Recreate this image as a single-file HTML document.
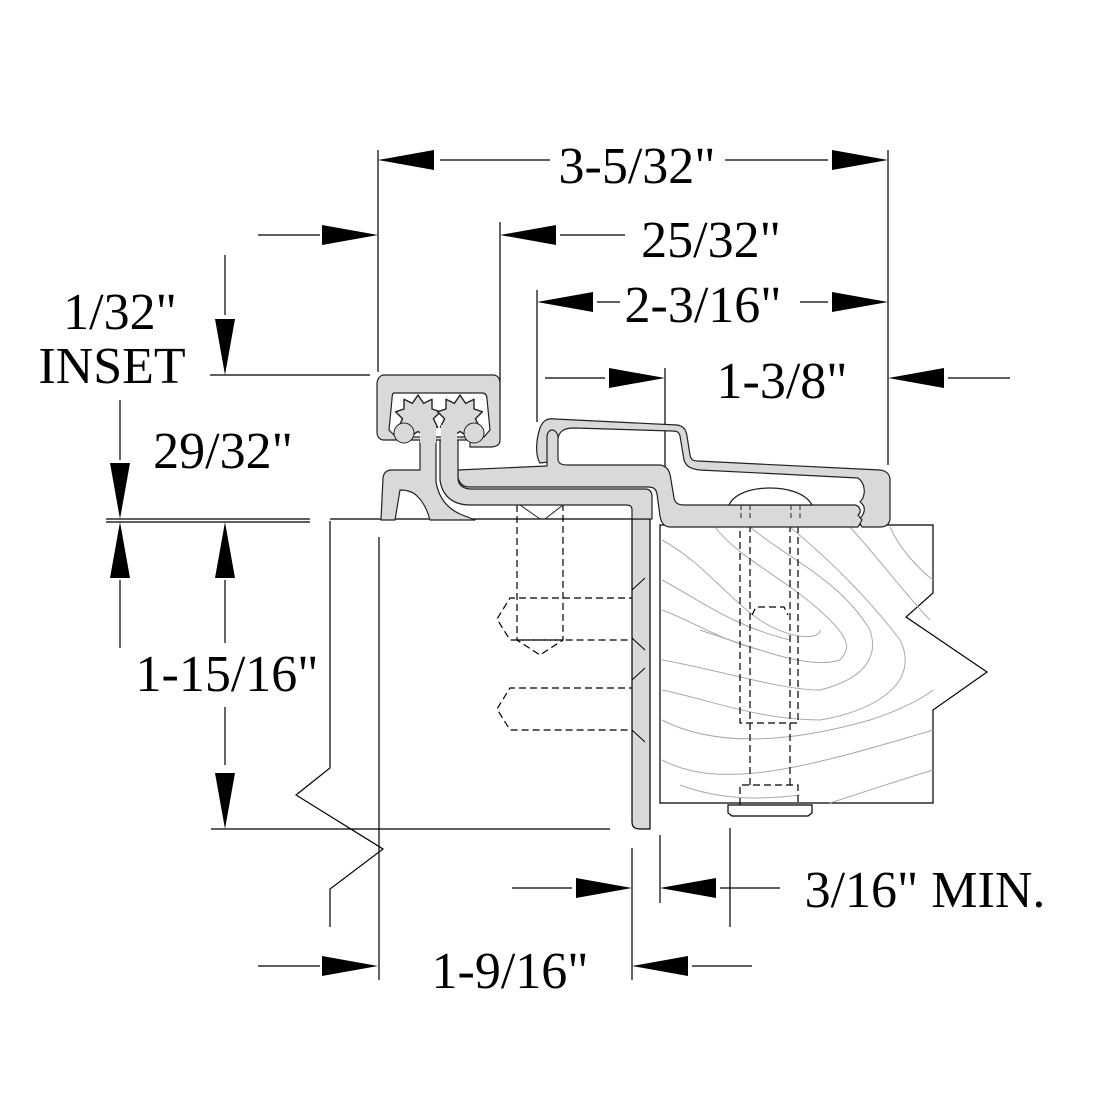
<!DOCTYPE html>
<html><head><meta charset="utf-8"><style>
html,body{margin:0;padding:0;background:#fff;}
svg{display:block}
text{font-family:"Liberation Serif",serif;fill:#000;}
</style></head><body>
<svg width="1094" height="1118" viewBox="0 0 1094 1118" xmlns="http://www.w3.org/2000/svg">
<defs>
<path id="ar" d="M0,0 L56,-10 L56,10 Z" fill="#000"/>
<path id="gear" d="M0,-15 L4,-9 L10,-12 L10,-5 L16,-3 L11,2 L14,8 L7,9 L6,15 L0,11 L-6,15 L-7,9 L-14,8 L-11,2 L-16,-3 L-10,-5 L-10,-12 L-4,-9 Z"/>
</defs>
<g stroke="#000" stroke-width="1.2" fill="none">
<line x1="378" y1="150" x2="378" y2="372"/>
<line x1="888" y1="150" x2="888" y2="465"/>
<line x1="500" y1="222" x2="500" y2="400"/>
<line x1="537" y1="290" x2="537" y2="422"/>
<line x1="665" y1="368" x2="665" y2="515"/>
<line x1="210" y1="375" x2="370" y2="375"/>
<line x1="106" y1="519" x2="310" y2="519"/>
<line x1="106" y1="522" x2="310" y2="522"/>
<line x1="211" y1="829" x2="610" y2="829"/>
<line x1="379" y1="537" x2="379" y2="980"/>
<line x1="632" y1="848" x2="632" y2="980"/>
<line x1="660" y1="835" x2="660" y2="903"/>
<line x1="730" y1="828" x2="730" y2="927"/>
<line x1="440" y1="160" x2="550" y2="160"/>
<line x1="725" y1="160" x2="828" y2="160"/>
<line x1="258" y1="235" x2="320" y2="235"/>
<line x1="560" y1="235" x2="625" y2="235"/>
<line x1="597" y1="302" x2="620" y2="302"/>
<line x1="800" y1="302" x2="828" y2="302"/>
<line x1="545" y1="378" x2="605" y2="378"/>
<line x1="948" y1="378" x2="1010" y2="378"/>
<line x1="225" y1="255" x2="225" y2="315"/>
<line x1="120" y1="400" x2="120" y2="460"/>
<line x1="120" y1="580" x2="120" y2="648"/>
<line x1="225" y1="580" x2="225" y2="643"/>
<line x1="225" y1="707" x2="225" y2="765"/>
<line x1="512" y1="888" x2="572" y2="888"/>
<line x1="720" y1="888" x2="780" y2="888"/>
<line x1="258" y1="966" x2="320" y2="966"/>
<line x1="692" y1="966" x2="752" y2="966"/>
<line x1="330" y1="519" x2="640" y2="519"/>
<polyline points="330,521 330,768 296,795 383,849 330,889 330,927"/>
</g>
<use href="#ar" transform="translate(378,160)"/>
<use href="#ar" transform="translate(888,160) rotate(180)"/>
<use href="#ar" transform="translate(378,235) rotate(180)"/>
<use href="#ar" transform="translate(500,235)"/>
<use href="#ar" transform="translate(537,302)"/>
<use href="#ar" transform="translate(888,302) rotate(180)"/>
<use href="#ar" transform="translate(665,378) rotate(180)"/>
<use href="#ar" transform="translate(888,378)"/>
<use href="#ar" transform="translate(225,375) rotate(-90)"/>
<use href="#ar" transform="translate(120,519) rotate(-90)"/>
<use href="#ar" transform="translate(120,522) rotate(90)"/>
<use href="#ar" transform="translate(225,522) rotate(90)"/>
<use href="#ar" transform="translate(225,829) rotate(-90)"/>
<use href="#ar" transform="translate(632,888) rotate(180)"/>
<use href="#ar" transform="translate(660,888)"/>
<use href="#ar" transform="translate(378,966) rotate(180)"/>
<use href="#ar" transform="translate(632,966)"/>

<path d="M660,525 H933 V593 L906,617 L987,672 L933,710 V803 H660 Z" fill="#fff" stroke="#000" stroke-width="1.2"/>
<g stroke="#aaa" stroke-width="1" fill="none">
<path d="M715,527 C740,560 790,580 830,620 C850,640 850,650 840,660 C810,670 760,650 700,630 660,610"/>
<path d="M750,527 C790,560 840,580 870,630 C880,660 860,680 820,690 C780,690 720,670 662,660"/>
<path d="M790,527 C830,560 870,600 900,640 C920,680 880,710 820,720 C760,720 710,700 662,690"/>
<path d="M850,527 C880,560 910,600 930,620"/>
<path d="M662,540 C700,560 730,600 760,620 C790,640 820,640 820,630"/>
<path d="M662,580 C700,600 730,625 790,640"/>
<path d="M662,610 C690,620 720,640 760,650"/>
<path d="M662,720 C720,750 800,740 870,720 C900,710 920,700 933,690"/>
<path d="M662,760 C720,790 800,770 933,730"/>
<path d="M680,785 C720,800 760,800 800,795"/>
<path d="M830,803 C870,790 900,780 933,770"/>
<path d="M890,527 C900,550 920,570 933,580"/>
</g>
<g stroke="#000" stroke-width="1.2" fill="none" stroke-dasharray="7,4">
<path d="M740,520 V723 H798 V520"/>
<path d="M750,525 V785 M790,525 V785"/>
<path d="M752,615 L756,607 H784 L788,615"/>
<path d="M740,805 V785 H798 V805"/>
</g>
<path d="M728,805 H812 V813 L808,816 H732 L728,813 Z" fill="#fff" stroke="#000" stroke-width="1.2"/>
<g stroke="#000" stroke-width="1.2" fill="none" stroke-dasharray="7,4">
<path d="M517,505 V640 L540,655 L563,640 V505"/>
<path d="M517,640 H563"/>
<path d="M636,598 H510 L497,619 L510,640 H636 Z"/>
<path d="M636,688 H510 L497,709 L510,730 H636 Z"/>
</g>
<path d="M632,519 V822 Q632,829 640,829 H650 V519 Z" fill="#d9d9d9" stroke="#000" stroke-width="1.2"/>
<g stroke="#000" stroke-width="1" fill="none">
<path d="M632,590 L645,578 M632,638 L645,650 M632,680 L645,668 M632,730 L645,742"/>
</g>

<g fill="#d9d9d9" stroke="#222" stroke-width="1.2" stroke-linejoin="round">
<path d="M540,463 C535,455 536,440 540,428 C543,420 548,418 555,419 L677,425 C684,426 686,430 687,436 L690,455 C691,460 693,461 698,461 L880,470 C888,471 890,476 890,480 V518 C890,524 886,527 880,527 H862 L858,520 C866,514 866,506 860,502 C866,496 866,484 858,478 L700,470 C690,469 686,466 684,460 L680,436 C679,432 677,431 672,431 L575,428 C565,428 560,430 558,438 C555,446 552,455 548,462 Z"/>
<path d="M458,470 L547,466 V436 C548,428 556,428 558,436 V460 C559,464 562,465 568,465 L660,465 C668,466 670,472 671,480 L674,498 C675,503 678,505 684,505 L855,505 C860,506 862,512 858,515 L862,520 L858,527 H670 C664,527 661,522 660,516 L657,494 C656,489 654,487 648,487 L470,487 C463,487 460,484 458,478 Z"/>
<path d="M440,440 L458,440 L458,478 C458,485 463,489 472,489 L645,489 C650,489 652,492 652,497 V519 L632,519 V510 C632,506 630,505 626,505 L470,505 C452,505 442,495 440,480 Z"/>
<path d="M381,520 L383,478 Q384,470 392,470 L420,470 V440 H436 V482 Q440,505 460,514 L475,520 L430,520 Q426,505 418,497 Q412,490 400,490 L395,520 Z"/>
<path d="M384,375 H493 C498,375 500,379 500,384 V440 C500,445 496,447 490,447 H470 V440 H384 C379,440 377,436 377,432 V384 C377,379 380,375 384,375 Z"/>
</g>
<path d="M394,393 H482 C486,393 487,396 487,399 L490,430 L484,437 H396 L389,430 L392,399 C392,395 393,393 394,393 Z" fill="#fff" stroke="#222" stroke-width="1.2"/>
<g fill="#d9d9d9" stroke="#222" stroke-width="1" stroke-linejoin="round">
<use href="#gear" transform="translate(418,416) scale(1.4)"/>
<use href="#gear" transform="translate(460,416) scale(1.4)"/>
<circle cx="404" cy="433" r="10"/>
<circle cx="474" cy="433" r="10"/>
<rect x="420" y="425" width="16" height="18" stroke="none"/>
<rect x="441" y="425" width="16" height="18" stroke="none"/>
</g>
<path d="M729,505 C735,492 755,488 770,488 C785,488 805,492 812,505 Z" fill="#fff" stroke="#222" stroke-width="1.2"/>
<path d="M741,505 V520 M750,505 V520 M791,505 V520 M800,505 V520" stroke="#222" stroke-width="1" stroke-dasharray="5,3"/>
<path d="M520,505 L540,519 M563,505 L545,519" stroke="#222" stroke-width="1" fill="none"/>

<text x="637" y="183" font-size="52" text-anchor="middle">3-5/32"</text>
<text x="711" y="257" font-size="52" text-anchor="middle">25/32"</text>
<text x="703" y="322" font-size="52" text-anchor="middle">2-3/16"</text>
<text x="782" y="398" font-size="52" text-anchor="middle">1-3/8"</text>
<text x="120" y="329" font-size="52" text-anchor="middle">1/32"</text>
<text x="112" y="383" font-size="52" text-anchor="middle">INSET</text>
<text x="223" y="468" font-size="52" text-anchor="middle">29/32"</text>
<text x="227" y="691" font-size="52" text-anchor="middle">1-15/16"</text>
<text x="925" y="907" font-size="52" text-anchor="middle">3/16" MIN.</text>
<text x="510" y="988" font-size="52" text-anchor="middle">1-9/16"</text>
</svg>
</body></html>
